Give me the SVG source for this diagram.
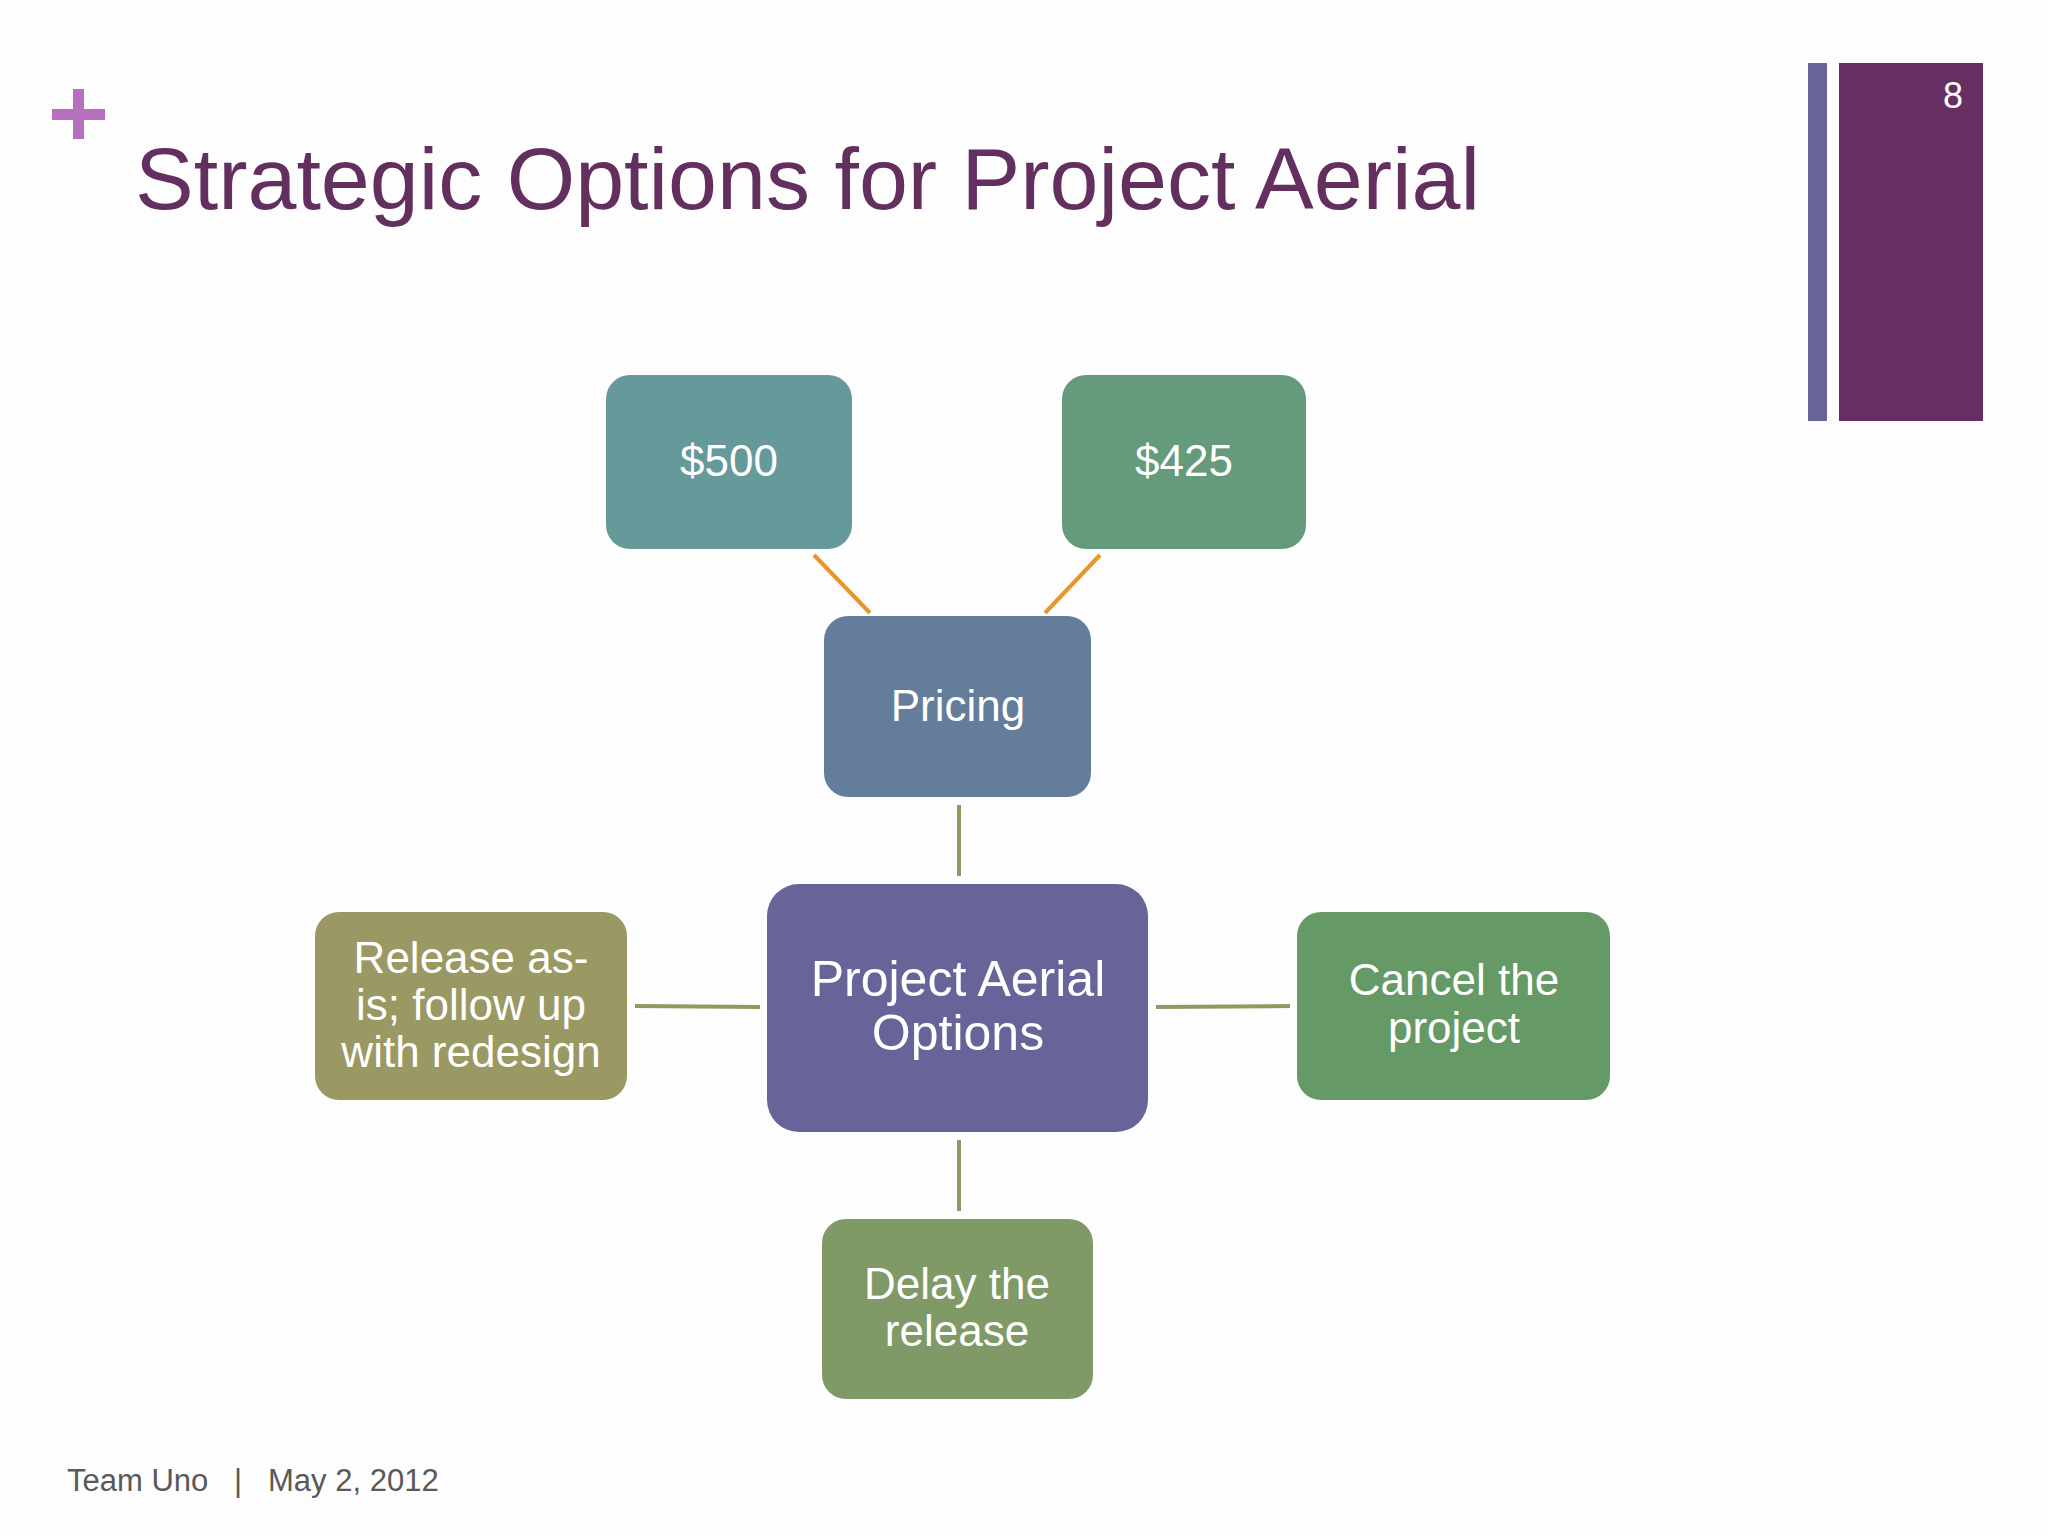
<svg xmlns="http://www.w3.org/2000/svg" width="2048" height="1536" viewBox="0 0 2048 1536">
<style>
.n text{font-family:"Liberation Sans",Arial,sans-serif;fill:#fff;text-anchor:middle}
.c line{stroke-width:4}
</style>
<rect width="2048" height="1536" fill="#fdfdfd"/>
<g id="plus" fill="#B76FC0"><rect x="52" y="109" width="53" height="11"/><rect x="73" y="89" width="11" height="50"/></g>
<text x="135" y="209" font-family="Liberation Sans,Arial,sans-serif" font-size="88" fill="#622F5E">Strategic Options for Project Aerial</text>
<rect x="1808" y="63" width="19" height="358" fill="#676499"/>
<rect x="1839" y="63" width="144" height="358" fill="#652F61"/>
<text x="1953" y="108" font-family="Liberation Sans,Arial,sans-serif" font-size="36" fill="#fff" text-anchor="middle">8</text>
<g id="connectors" class="c">
<line x1="814" y1="555" x2="870" y2="613" stroke="#E8952A"/>
<line x1="1100" y1="555" x2="1045" y2="613" stroke="#E8952A"/>
<line x1="959" y1="805" x2="959" y2="876" stroke="#8E9A5E"/>
<line x1="635" y1="1006" x2="760" y2="1007" stroke="#8E9A5E"/>
<line x1="1156" y1="1007" x2="1290" y2="1006" stroke="#8E9A5E"/>
<line x1="959" y1="1140" x2="959" y2="1211" stroke="#8E9A5E"/>
</g>
<g id="n500" class="n"><rect x="606" y="375" width="246" height="174" rx="24" fill="#66999A"/><text x="729" y="476" font-size="44">$500</text></g>
<g id="n425" class="n"><rect x="1062" y="375" width="244" height="174" rx="24" fill="#659A7C"/><text x="1184" y="476" font-size="44">$425</text></g>
<g id="pricing" class="n"><rect x="824" y="616" width="267" height="181" rx="24" fill="#647D9A"/><text x="958" y="721" font-size="44">Pricing</text></g>
<g id="center" class="n"><rect x="767" y="884" width="381" height="248" rx="32" fill="#676499"/><text x="958" y="996" font-size="50">Project Aerial</text><text x="958" y="1050" font-size="50">Options</text></g>
<g id="release" class="n"><rect x="315" y="912" width="312" height="188" rx="24" fill="#9A9963"/><text x="471" y="973" font-size="44">Release as-</text><text x="471" y="1020" font-size="44">is; follow up</text><text x="471" y="1067" font-size="44">with redesign</text></g>
<g id="cancel" class="n"><rect x="1297" y="912" width="313" height="188" rx="24" fill="#659A66"/><text x="1454" y="995" font-size="44">Cancel the</text><text x="1454" y="1043" font-size="44">project</text></g>
<g id="delay" class="n"><rect x="822" y="1219" width="271" height="180" rx="24" fill="#7F9A66"/><text x="957" y="1299" font-size="44">Delay the</text><text x="957" y="1346" font-size="44">release</text></g>
<text x="67" y="1491" font-family="Liberation Sans,Arial,sans-serif" font-size="31" fill="#595959" xml:space="preserve">Team Uno   |   May 2, 2012</text>
</svg>
